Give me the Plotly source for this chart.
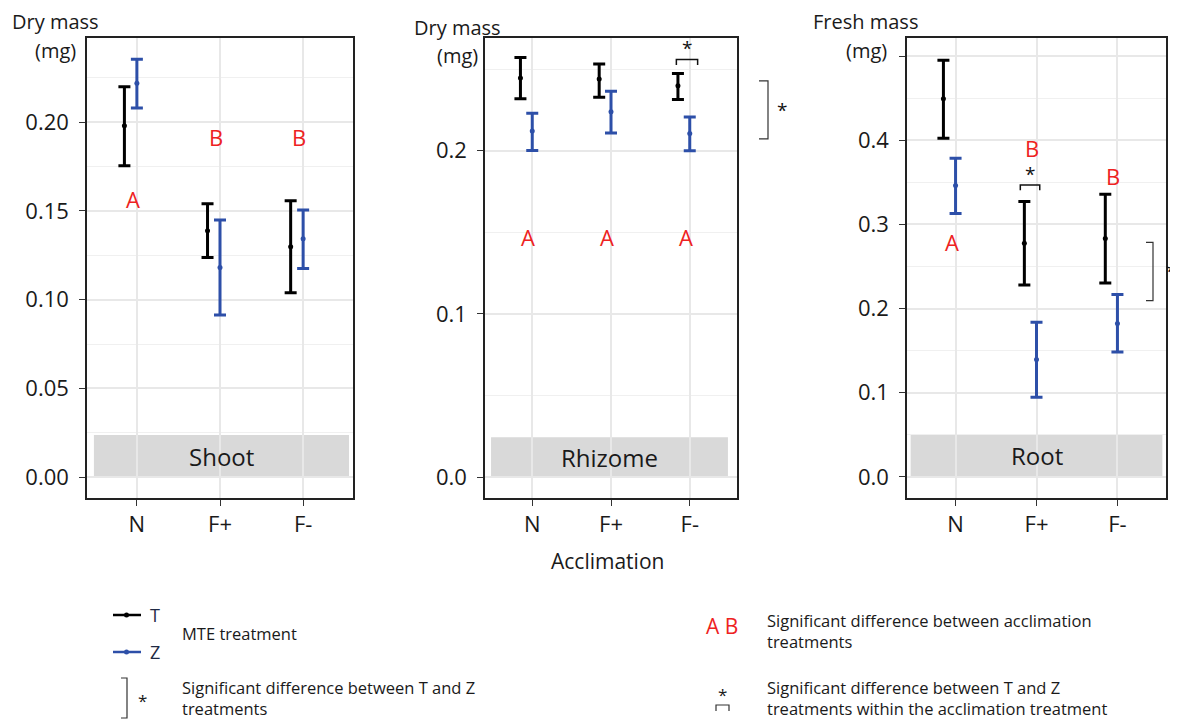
import plotly.graph_objects as go

# ---------------- data ----------------
categories = ["N", "F+", "F-"]
cat_pos = [1, 2, 3]
dodge_T = -0.15  # T drawn left of the category centre

# Shoot (dry mass, mg)
shoot_T_mean = [0.198, 0.1388, 0.1298]
shoot_T_hi = [0.220, 0.154, 0.1558]
shoot_T_lo = [0.1755, 0.1238, 0.1039]
shoot_Z_mean = [0.222, 0.1182, 0.1343]
shoot_Z_hi = [0.2355, 0.1449, 0.1505]
shoot_Z_lo = [0.208, 0.0913, 0.1176]
shoot_letters = ["A", "B", "B"]
shoot_letter_y = [0.1567, 0.1916, 0.1916]
shoot_yticks = [0.0, 0.05, 0.10, 0.15, 0.20]
shoot_yticklabels = ["0.00", "0.05", "0.10", "0.15", "0.20"]

# Rhizome (dry mass, mg)
rhiz_T_mean = [0.2446, 0.2439, 0.2398]
rhiz_T_hi = [0.2571, 0.2532, 0.2473]
rhiz_T_lo = [0.2319, 0.2328, 0.2314]
rhiz_Z_mean = [0.2121, 0.2239, 0.2105]
rhiz_Z_hi = [0.2230, 0.2364, 0.2207]
rhiz_Z_lo = [0.2002, 0.2109, 0.2000]
rhiz_letters = ["A", "A", "A"]
rhiz_letter_y = [0.1472, 0.1472, 0.1472]
rhiz_yticks = [0.0, 0.1, 0.2]
rhiz_yticklabels = ["0.0", "0.1", "0.2"]

# Root (fresh mass, mg)
root_T_mean = [0.4491, 0.2776, 0.2832]
root_T_hi = [0.4950, 0.3271, 0.3358]
root_T_lo = [0.4024, 0.2281, 0.2305]
root_Z_mean = [0.3461, 0.1394, 0.1822]
root_Z_hi = [0.3786, 0.1838, 0.2166]
root_Z_lo = [0.3129, 0.0947, 0.1485]
root_letters = ["A", "B", "B"]
root_letter_y = [0.2792, 0.3909, 0.3572]
root_yticks = [0.0, 0.1, 0.2, 0.3, 0.4, 0.5]
root_yticklabels = ["0.0", "0.1", "0.2", "0.3", "0.4", ""]

# significance brackets (y values in data units)
rhiz_within_bracket = dict(x0=2.83, x1=3.10, top=0.256, leg=0.2525, star=0.263)
rhiz_overall_bracket = dict(top=0.2428, bottom=0.2073)
root_within_bracket = dict(x0=1.80, x1=2.04, top=0.3469, leg=0.3406, star=0.3604)
root_overall_bracket = dict(top=0.2786, bottom=0.2095)

panel_names = ["Shoot", "Rhizome", "Root"]
y_titles = ["Dry mass", "Dry mass", "Fresh mass"]

# ---------------- style ----------------
BLACK = "#000000"
BLUE = "#2d4fa8"
RED = "#ee2222"
FONT = "Open Sans"
TXT = "#1a1a1a"

OFF = 8  # page body margin
W, H = 1178 - OFF, 722 - OFF
def px_x(p):
    return (p - OFF) / W
def px_y(p):
    return 1 - (p - OFF) / H

def ann(**kw):
    kw.setdefault("showarrow", False)
    kw.setdefault("xanchor", "center")
    kw.setdefault("yanchor", "middle")
    return kw

panels = [
    dict(dom=(87, 353), yr=(-0.0118, 0.2475), minor=0.025,
         ticks=(shoot_yticks, shoot_yticklabels),
         T=(shoot_T_mean, shoot_T_hi, shoot_T_lo), Z=(shoot_Z_mean, shoot_Z_hi, shoot_Z_lo),
         letters=shoot_letters, ly=shoot_letter_y, strip=(0.026, 0.985, 0.0237)),
    dict(dom=(485, 737), yr=(-0.0128, 0.2691), minor=0.05,
         ticks=(rhiz_yticks, rhiz_yticklabels),
         T=(rhiz_T_mean, rhiz_T_hi, rhiz_T_lo), Z=(rhiz_Z_mean, rhiz_Z_hi, rhiz_Z_lo),
         letters=rhiz_letters, ly=rhiz_letter_y, strip=(0.024, 0.964, 0.0245)),
    dict(dom=(907, 1166), yr=(-0.025, 0.5214), minor=0.05,
         ticks=(root_yticks, root_yticklabels),
         T=(root_T_mean, root_T_hi, root_T_lo), Z=(root_Z_mean, root_Z_hi, root_Z_lo),
         letters=root_letters, ly=root_letter_y, strip=(0.014, 0.986, 0.0503)),
]

fig = go.Figure()
shapes = []
annotations = []
ydom = (px_y(498), px_y(38))

for i, p in enumerate(panels):
    n = "" if i == 0 else str(i + 1)
    xa, ya = "x" + n, "y" + n
    # strip box (drawn below data)
    shapes.append(dict(type="rect", xref=xa + " domain", yref=ya,
                       x0=p["strip"][0], x1=p["strip"][1], y0=0, y1=p["strip"][2],
                       fillcolor="#d9d9d9", line=dict(width=0), layer="below"))
    annotations.append(ann(xref=xa + " domain", yref=ya, x=(p["strip"][0] + p["strip"][1]) / 2,
                           y=p["strip"][2] / 2, text=panel_names[i],
                           font=dict(family=FONT, size=24, color=TXT)))
    for key, col, off in (("T", BLACK, dodge_T), ("Z", BLUE, 0.0)):
        m, hi, lo = p[key]
        fig.add_trace(go.Scatter(
            x=[c + off for c in cat_pos], y=m, mode="markers",
            marker=dict(color=col, size=5),
            error_y=dict(type="data", symmetric=False,
                         array=[h - v for h, v in zip(hi, m)],
                         arrayminus=[v - l for v, l in zip(m, lo)],
                         color=col, thickness=3, width=6),
            xaxis=xa, yaxis=ya, showlegend=False, name=key))
    for c, t, yv in zip(cat_pos, p["letters"], p["ly"]):
        annotations.append(ann(xref=xa, yref=ya, x=c - 0.05, y=yv, text=t,
                               font=dict(family=FONT, size=22, color=RED)))
    axis_common = dict(showline=True, mirror=True, linecolor="#222222", linewidth=1.5,
                       ticks="outside", ticklen=6, tickcolor="#333333", tickwidth=1.2,
                       showgrid=True, gridcolor="#e8e8e8", gridwidth=1.5, zeroline=False,
                       tickfont=dict(family=FONT, size=22, color=TXT))
    fig.update_layout(**{
        ("xaxis" + n): dict(domain=[px_x(p["dom"][0]), px_x(p["dom"][1])], range=[0.4, 3.6],
                            tickvals=cat_pos, ticktext=categories, anchor=ya, **axis_common),
        ("yaxis" + n): dict(domain=list(ydom), range=list(p["yr"]),
                            tickvals=p["ticks"][0], ticktext=p["ticks"][1], anchor=xa,
                            ticklabelstandoff=6,
                            minor=dict(dtick=p["minor"], tick0=0, showgrid=True,
                                       gridcolor="#f0f0f0", gridwidth=1, ticks=""),
                            **axis_common),
    })

# brackets within acclimation (Rhizome F-, Root F+)
for xa, ya, b in (("x2", "y2", rhiz_within_bracket), ("x3", "y3", root_within_bracket)):
    shapes.append(dict(type="path", xref=xa, yref=ya,
                       path=f"M {b['x0']},{b['leg']} L {b['x0']},{b['top']} L {b['x1']},{b['top']} L {b['x1']},{b['leg']}",
                       line=dict(color="#111111", width=1.5)))
    annotations.append(ann(xref=xa, yref=ya, x=(b['x0'] + b['x1']) / 2, y=b['star'], text="*",
                           font=dict(family=FONT, size=19, color="#111111")))

# overall T vs Z brackets at the right of panels
for (xl, xr, xs), ya, b in (((759, 768, 782), "y2", rhiz_overall_bracket),
                            ((1146, 1153, 1171), "y3", root_overall_bracket)):
    shapes.append(dict(type="path", xref="paper", yref=ya,
                       path=f"M {px_x(xl)},{b['top']} L {px_x(xr)},{b['top']} L {px_x(xr)},{b['bottom']} L {px_x(xl)},{b['bottom']}",
                       line=dict(color="#333333", width=1.2)))
    annotations.append(ann(xref="paper", yref=ya, x=px_x(xs), y=(b['top'] + b['bottom']) / 2, text="*",
                           font=dict(family=FONT, size=19, color="#111111")))

# y-axis titles
for (x1, y1, x2, y2), t in zip(((55, 21.5, 55, 50), (457, 27, 457, 56), (866, 21.5, 867, 50)), y_titles):
    annotations.append(ann(xref="paper", yref="paper", x=px_x(x1), y=px_y(y1), text=t,
                           font=dict(family=FONT, size=20, color=TXT)))
    annotations.append(ann(xref="paper", yref="paper", x=px_x(x2), y=px_y(y2), text="(mg)",
                           font=dict(family=FONT, size=20, color=TXT)))

# x-axis title
annotations.append(ann(xref="paper", yref="paper", x=px_x(607), y=px_y(561), text="Acclimation",
                       font=dict(family=FONT, size=21, color=TXT)))

# ---------------- custom legend ----------------
LF = dict(family=FONT, size=16.5, color=TXT)
for yy, col, lab in ((615, BLACK, "T"), (652, BLUE, "Z")):
    shapes.append(dict(type="line", xref="paper", yref="paper", x0=px_x(113), x1=px_x(141),
                       y0=px_y(yy), y1=px_y(yy), line=dict(color=col, width=2.5)))
    shapes.append(dict(type="circle", xref="paper", yref="paper", x0=px_x(124), x1=px_x(129),
                       y0=px_y(yy - 2.5), y1=px_y(yy + 2.5), fillcolor=col, line=dict(width=0)))
    annotations.append(ann(xref="paper", yref="paper", x=px_x(148), y=px_y(yy), text=lab,
                           xanchor="left", font=dict(family=FONT, size=18, color="#1f2a44")))
annotations.append(ann(xref="paper", yref="paper", x=px_x(180), y=px_y(633), text="MTE treatment",
                       xanchor="left", font=LF))

shapes.append(dict(type="path", xref="paper", yref="paper",
                   path=f"M {px_x(121)},{px_y(678)} L {px_x(127)},{px_y(678)} L {px_x(127)},{px_y(718)} L {px_x(121)},{px_y(718)}",
                   line=dict(color="#333333", width=1.2)))
annotations.append(ann(xref="paper", yref="paper", x=px_x(142), y=px_y(700), text="*",
                       font=dict(family=FONT, size=17, color=TXT)))
annotations.append(ann(xref="paper", yref="paper", x=px_x(180), y=px_y(698),
                       text="Significant difference between T and Z<br>treatments",
                       xanchor="left", align="left", font=LF))

annotations.append(ann(xref="paper", yref="paper", x=px_x(722), y=px_y(626), text="A B",
                       font=dict(family=FONT, size=21, color=RED)))
annotations.append(ann(xref="paper", yref="paper", x=px_x(765), y=px_y(631),
                       text="Significant difference between acclimation<br>treatments",
                       xanchor="left", align="left", font=LF))

shapes.append(dict(type="path", xref="paper", yref="paper",
                   path=f"M {px_x(716)},{px_y(711)} L {px_x(716)},{px_y(705)} L {px_x(729)},{px_y(705)} L {px_x(729)},{px_y(711)}",
                   line=dict(color="#333333", width=1.2)))
annotations.append(ann(xref="paper", yref="paper", x=px_x(722.5), y=px_y(694), text="*",
                       font=dict(family=FONT, size=17, color=TXT)))
annotations.append(ann(xref="paper", yref="paper", x=px_x(765), y=px_y(698),
                       text="Significant difference between T and Z<br>treatments within the acclimation treatment",
                       xanchor="left", align="left", font=LF))

fig.update_layout(width=W, height=H, margin=dict(l=0, r=0, t=0, b=0),
                  paper_bgcolor="white", plot_bgcolor="white",
                  shapes=shapes, annotations=annotations, showlegend=False)

fig.write_html("out.html")
